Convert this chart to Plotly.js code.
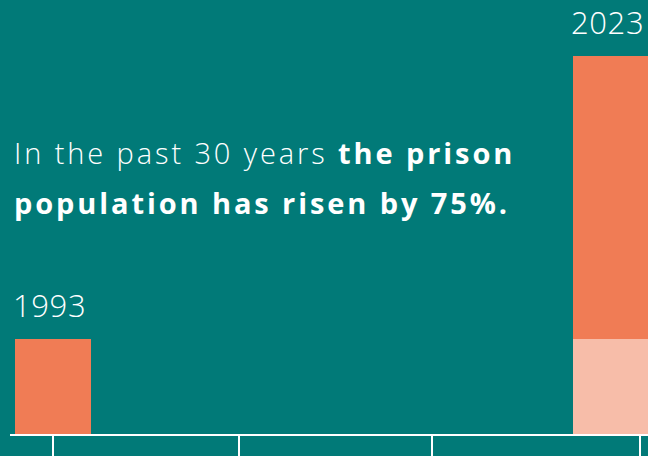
<!DOCTYPE html>
<html>
<head>
<meta charset="utf-8">
<script src="https://cdn.plot.ly/plotly-3.0.1.min.js"></script>
<style>html,body{margin:0;padding:0;background:#017a78;}#chart{width:648px;height:456px;}</style>
</head>
<body>
<div id="chart"></div>
<script>
// Data
const years = [1993, 2023];
const yearLabels = ['1993', '2023'];
const population = [44600, 78050]; // prison population (estimated)
const tickYears = [1993, 2003, 2013.4, 2024.55];
const headlineLine1 = 'In the past 30 years <b>the prison</b>';
const headlineLine2 = '<b>population has risen by 75%.</b>';

const teal = '#017a78';
const orange = '#f07c55';
const lightSalmon = '#f7bda9';
const FONT = 'Open Sans, Lato, sans-serif';

const baseTrace = {
  type: 'bar',
  x: [years[1]],
  y: [population[0]],
  width: 4.086,
  marker: {color: lightSalmon, line: {width: 0}},
  hoverinfo: 'skip',
  showlegend: false
};
const riseTrace = {
  type: 'bar',
  x: years,
  y: [population[0], population[1] - population[0]],
  width: 4.086,
  marker: {color: orange, line: {width: 0}},
  hoverinfo: 'skip',
  showlegend: false
};

const annotations = years.map((yr, i) => ({
  x: yr, y: population[i], xref: 'x', yref: 'y',
  text: '<span style="letter-spacing:0.6px">' + yearLabels[i] + '</span>', showarrow: false, borderpad: 0,
  xanchor: 'center', yanchor: 'bottom', yshift: i === 0 ? 12 : 12, xshift: i === 0 ? -4 : -4,
  font: {family: FONT, size: 31, color: '#ffffff', weight: 300}
}));
const spacing = (t) => '<span style="letter-spacing:2.9px">' + t + '</span>';
annotations.push({
  x: 0, y: 1, xref: 'paper', yref: 'paper', xanchor: 'left', yanchor: 'top',
  xshift: 2, yshift: -131,
  text: spacing(headlineLine1), showarrow: false,
  font: {family: FONT, size: 29, color: '#ffffff', weight: 300}
});
annotations.push({
  x: 0, y: 1, xref: 'paper', yref: 'paper', xanchor: 'left', yanchor: 'top',
  xshift: 2, yshift: -181,
  text: spacing(headlineLine2), showarrow: false,
  font: {family: FONT, size: 29, color: '#ffffff', weight: 300}
});

const layout = {
  width: 648, height: 456,
  margin: {l: 10, r: 0, t: 0, b: 22, pad: 0},
  paper_bgcolor: teal, plot_bgcolor: teal,
  barmode: 'stack', bargap: 0,
  xaxis: {
    range: [1990.688, 2024.989], showgrid: false, zeroline: false,
    showline: true, linecolor: '#ffffff', linewidth: 2,
    tickmode: 'array', tickvals: tickYears, showticklabels: false,
    ticks: 'outside', ticklen: 22, tickwidth: 2, tickcolor: '#ffffff',
    fixedrange: true
  },
  yaxis: {
    range: [33350, 84700], visible: false, showgrid: false, zeroline: false, fixedrange: true
  },
  annotations: annotations
};

Plotly.newPlot('chart', [baseTrace, riseTrace], layout, {displayModeBar: false, staticPlot: true});
</script>
</body>
</html>
